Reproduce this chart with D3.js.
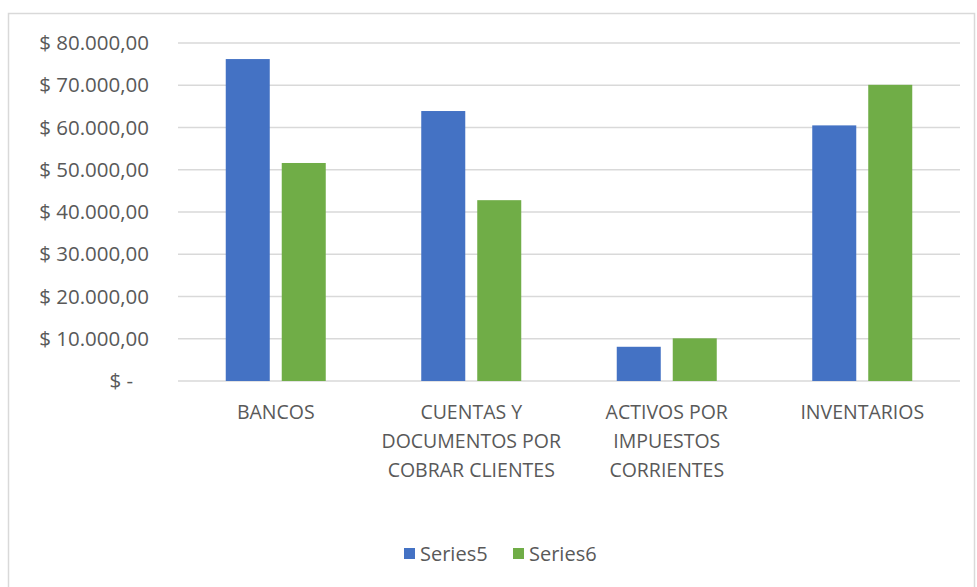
<!DOCTYPE html>
<html>
<head>
<meta charset="utf-8">
<script src="https://cdn.jsdelivr.net/npm/d3@7"></script>
<style>
  body { margin: 0; background: #fff; }
  text { font-family: "Open Sans", "Liberation Sans", sans-serif; fill: #595959; }
</style>
</head>
<body>
<svg id="chart"></svg>
<script>
const categories = [
	["BANCOS"],
	["CUENTAS Y", "DOCUMENTOS POR", "COBRAR CLIENTES"],
	["ACTIVOS POR", "IMPUESTOS", "CORRIENTES"],
	["INVENTARIOS"],
];
const seriesNames = ["Series5", "Series6"];
const series5 = [76200, 63900, 8100, 60500];
const series6 = [51600, 42800, 10100, 70100];
const yTicks = [0, 10000, 20000, 30000, 40000, 50000, 60000, 70000, 80000];

const size = { w: 977, h: 587 };
const plot = { l: 178, r: 960, t: 43, b: 381 };
const colors = ["#4472c4", "#70ad47"];

const svg = d3.select("svg#chart").attr("width", size.w).attr("height", size.h);

// chart area border
svg.append("rect")
	.attr("x", 8.5).attr("y", 13.5)
	.attr("width", 966).attr("height", 600)
	.attr("fill", "none").attr("stroke", "#d9d9d9").attr("stroke-width", 1.5);

const y = d3.scaleLinear().domain([0, 80000]).range([plot.b, plot.t]);
const x = d3.scaleBand().domain(d3.range(categories.length)).range([plot.l, plot.r]);
const inner = d3.scaleBand().domain(seriesNames).range([-50, 50]).paddingInner(0.214);

// gridlines
svg.append("g")
	.selectAll("line")
	.data(yTicks)
	.join("line")
	.attr("x1", plot.l).attr("x2", plot.r)
	.attr("y1", (d) => y(d)).attr("y2", (d) => y(d))
	.attr("stroke", "#d9d9d9").attr("stroke-width", 1.5);

// y labels
const fmt = (d) => {
	if (d === 0) return "$ -\u00a0\u00a0\u00a0";
	const s = d3.format(",.2f")(d).replace(/,/g, "#").replace(".", ",").replace(/#/g, ".");
	return "$ " + s;
};
svg.append("g")
	.selectAll("text")
	.data(yTicks)
	.join("text")
	.attr("x", 149)
	.attr("y", (d) => y(d))
	.attr("dy", "0.35em")
	.attr("text-anchor", "end")
	.style("font-size", "20.5px")
	.text(fmt);

// bars
const data = [series5, series6];
data.forEach((vals, si) => {
	svg.append("g")
		.selectAll("rect")
		.data(vals)
		.join("rect")
		.attr("x", (d, i) => x(i) + x.bandwidth() / 2 + inner(seriesNames[si]))
		.attr("y", (d) => y(d))
		.attr("width", inner.bandwidth())
		.attr("height", (d) => y(0) - y(d))
		.attr("fill", colors[si]);
});

// category labels
const catG = svg.append("g")
	.selectAll("text")
	.data(categories)
	.join("text")
	.attr("text-anchor", "middle")
	.style("font-size", "19.5px")
	.attr("transform", (d, i) => `translate(${x(i) + x.bandwidth() / 2}, 419)`);
catG.selectAll("tspan")
	.data((d) => d)
	.join("tspan")
	.attr("x", 0)
	.attr("dy", (d, i) => (i === 0 ? 0 : 29))
	.text((d) => d);

// legend
const legendItems = [
	{ name: "Series5", x: 404 },
	{ name: "Series6", x: 513 },
];
const lg = svg.append("g")
	.selectAll("g")
	.data(legendItems)
	.join("g")
	.attr("transform", (d) => `translate(${d.x}, 554)`);
lg.append("rect")
	.attr("x", 0).attr("y", -6)
	.attr("width", 11).attr("height", 11)
	.attr("fill", (d, i) => colors[i]);
lg.append("text")
	.attr("x", 16).attr("dy", "0.35em")
	.style("font-size", "20px")
	.text((d) => d.name);
</script>
</body>
</html>
